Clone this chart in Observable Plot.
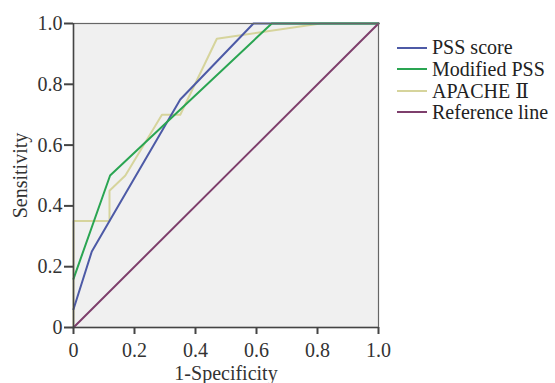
<!DOCTYPE html>
<html>
<head>
<meta charset="utf-8">
<script src="https://cdn.jsdelivr.net/npm/d3@7"></script>
<script src="https://cdn.jsdelivr.net/npm/@observablehq/plot@0.6"></script>
<style>
  html, body { margin: 0; padding: 0; background: #fff; }
  #wrap { position: relative; width: 555px; height: 383px; font-family: "Liberation Serif", "DejaVu Serif", serif; }
  #legend { position: absolute; left: 397px; top: 37px; font-size: 20px; color: #222; }
  .row { display: flex; align-items: center; height: 21.5px; }
  .sw { width: 30px; height: 2px; margin-right: 5px; }
</style>
</head>
<body>
<div id="wrap"><div id="legend"></div></div>
<script>
const seriesNames = ["PSS score", "Modified PSS", "APACHE Ⅱ", "Reference line"];
const seriesColors = ["#4d5aa6", "#2aa552", "#d6d49c", "#7e3f6c"];

const pssX = [0, 0.06, 0.118, 0.35, 0.59, 1.0];
const pssY = [0.06, 0.25, 0.35, 0.75, 1.0, 1.0];

const modX = [0, 0.12, 0.65, 1.0];
const modY = [0.16, 0.5, 1.0, 1.0];

const apaX = [0, 0, 0.118, 0.118, 0.17, 0.29, 0.35, 0.47, 0.81, 1.0];
const apaY = [0, 0.35, 0.35, 0.45, 0.5, 0.7, 0.7, 0.95, 1.0, 1.0];

const refX = [0, 1];
const refY = [0, 1];

const xTicks = [0, 0.2, 0.4, 0.6, 0.8, 1.0];
const yTicks = [0, 0.2, 0.4, 0.6, 0.8, 1.0];
const tickLabel = d => d === 0 ? "0" : d3.format(".1f")(d);

function rows(name, xs, ys) { return xs.map((x, i) => ({series: name, x, y: ys[i]})); }
const data = [
  ...rows(seriesNames[0], pssX, pssY),
  ...rows(seriesNames[1], modX, modY),
  ...rows(seriesNames[2], apaX, apaY),
  ...rows(seriesNames[3], refX, refY)
];
const order = [seriesNames[2], seriesNames[0], seriesNames[1], seriesNames[3]];

const chart = Plot.plot({
  width: 555,
  height: 383,
  marginLeft: 73,
  marginRight: 177,
  marginTop: 23,
  marginBottom: 56,
  style: {fontFamily: '"Liberation Serif", "DejaVu Serif", serif', fontSize: "20px", color: "#333", background: "white"},
  x: {domain: [0, 1]},
  y: {domain: [0, 1]},
  color: {domain: seriesNames, range: seriesColors},
  marks: [
    Plot.frame({fill: "#f0f0f0", stroke: null}),
    ...order.map(s => Plot.line(data.filter(d => d.series === s), {x: "x", y: "y", stroke: "series", strokeWidth: 2})),
    Plot.frame({stroke: "#666", strokeWidth: 1.2}),
    Plot.axisX({ticks: xTicks, tickFormat: tickLabel, tickSize: 7, tickPadding: 8, stroke: "#444", strokeWidth: 2, fontSize: 20, label: "1-Specificity", labelAnchor: "center", labelArrow: "none", labelOffset: 52}),
    Plot.axisY({ticks: yTicks, tickFormat: tickLabel, tickSize: 9, tickPadding: 2, stroke: "#444", strokeWidth: 2, fontSize: 20, label: "Sensitivity", labelAnchor: "center", labelArrow: "none", labelOffset: 61}),
    Plot.ruleX([0], {stroke: "#444", strokeWidth: 1.5}),
    Plot.ruleY([0], {stroke: "#444", strokeWidth: 1.5})
  ]
});
document.getElementById("wrap").prepend(chart);

const legend = document.getElementById("legend");
seriesNames.forEach((n, i) => {
  const r = document.createElement("div");
  r.className = "row";
  r.innerHTML = `<span class="sw" style="background:${seriesColors[i]}"></span><span>${n}</span>`;
  legend.appendChild(r);
});
</script>
</body>
</html>
